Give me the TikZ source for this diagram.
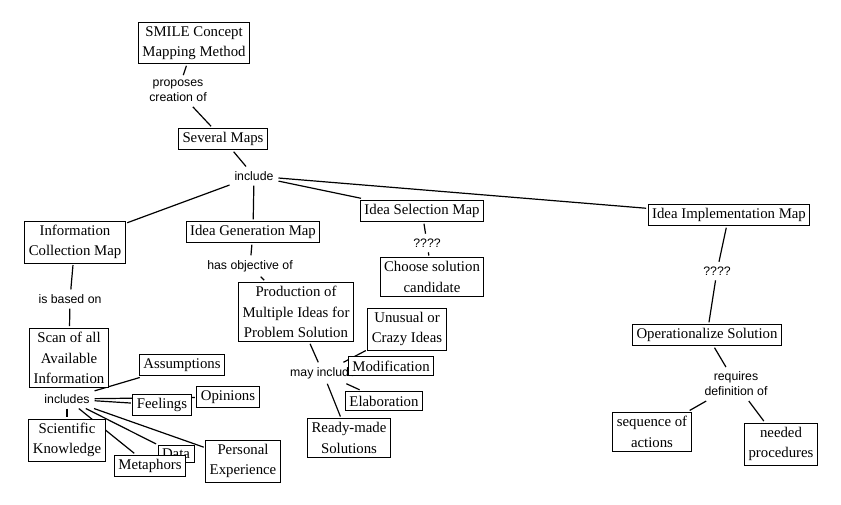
\documentclass[tikz,border=0pt]{standalone}
\usepackage{fontspec}
\setmainfont{Liberation Serif}
\newfontfamily\labelfont{Liberation Sans}
\usetikzlibrary{backgrounds}
\begin{document}
\begin{tikzpicture}[x=1pt,y=-1pt,
  concept/.style={draw, fill=white, line width=0.9pt, inner xsep=4pt, inner ysep=4pt, outer sep=2pt,
    align=center, font=\fontsize{14.8}{20.5}\selectfont},
  lbl/.style={inner sep=1pt, outer sep=4pt, align=center, font=\labelfont\fontsize{12.3}{15}\selectfont},
  link/.style={line width=1.2pt}]
\useasboundingbox (0,0) rectangle (841,504);
% concepts and labels
\node[concept] (smile) at (194,43) {SMILE Concept\\Mapping Method};
\node[lbl] (proposes) at (178,91) {proposes\\creation of};
\node[concept] (several) at (223,139) {Several Maps};
\node[lbl] (include) at (254,176) {include};
\node[concept] (info) at (75,242) {Information\\Collection Map};
\node[concept] (ideagen) at (253,232) {Idea Generation Map};
\node[lbl] (hasobj) at (250,266) {has objective of};
\node[concept] (prod) at (296,312) {Production of\\Multiple Ideas for\\Problem Solution};
\node[concept] (ideasel) at (422,211) {Idea Selection Map};
\node[lbl] (q1) at (427,243) {????};
\node[concept] (choose) at (432,277) {Choose solution\\candidate};
\node[concept] (ideaimpl) at (729,215) {Idea Implementation Map};
\node[lbl] (q2) at (717,271) {????};
\node[concept] (oper) at (707,335) {Operationalize Solution};
\node[lbl] (requires) at (736,384) {requires\\definition of};
\node[concept] (seq) at (652,432) {sequence of\\actions};
\node[concept] (needed) at (781,444) {needed\\procedures};
\node[lbl] (basedon) at (70,299) {is based on};
\node[concept] (scan) at (69,358) {Scan of all\\Available\\Information};
\node[lbl] (includes) at (67,399) {includes};
\node[concept] (sci) at (67,440) {Scientific\\Knowledge};
\node[concept] (assump) at (182,365) {Assumptions};
\node[concept] (feel) at (162,405) {Feelings};
\node[concept] (opin) at (228,397) {Opinions};
\node[concept] (data) at (176,454) {Data};
\node[concept] (metaph) at (150,466) {Metaphors};
\node[concept] (personal) at (243,461) {Personal\\Experience};
\node[lbl] (mayinc) at (323,373) {may include};
\node[concept] (unusual) at (407,329) {Unusual or\\Crazy Ideas};
\node[concept] (modif) at (391,366) {Modification};
\node[concept] (elab) at (384,401) {Elaboration};
\node[concept] (ready) at (349,438) {Ready-made\\Solutions};
% connectors
\begin{scope}[on background layer]
\fill[white] (0,0) rectangle (841,504);
\draw[link] (smile) -- (proposes);
\draw[link] (proposes) -- (several);
\draw[link] (several) -- (include);
\draw[link] (include) -- (info);
\draw[link] (include) -- (ideagen);
\draw[link] (include) -- (ideasel);
\draw[link] (include) -- (ideaimpl);
\draw[link] (info) -- (basedon);
\draw[link] (basedon) -- (scan);
\draw[link] (includes) -- (sci);
\draw[link] (includes) -- (assump);
\draw[link] (includes) -- (feel);
\draw[link] (includes) -- (opin);
\draw[link] (includes) -- (data);
\draw[link] (includes) -- (metaph);
\draw[link] (includes) -- (personal);
\draw[link] (ideagen) -- (hasobj);
\draw[link] (hasobj) -- (prod);
\draw[link] (prod) -- (mayinc);
\draw[link] (mayinc) -- (unusual);
\draw[link] (mayinc) -- (modif);
\draw[link] (mayinc) -- (elab);
\draw[link] (mayinc) -- (ready);
\draw[link] (ideasel) -- (q1);
\draw[link] (q1) -- (choose);
\draw[link] (ideaimpl) -- (q2);
\draw[link] (q2) -- (oper);
\draw[link] (oper) -- (requires);
\draw[link] (requires) -- (seq);
\draw[link] (requires) -- (needed);
\end{scope}
\end{tikzpicture}
\end{document}
